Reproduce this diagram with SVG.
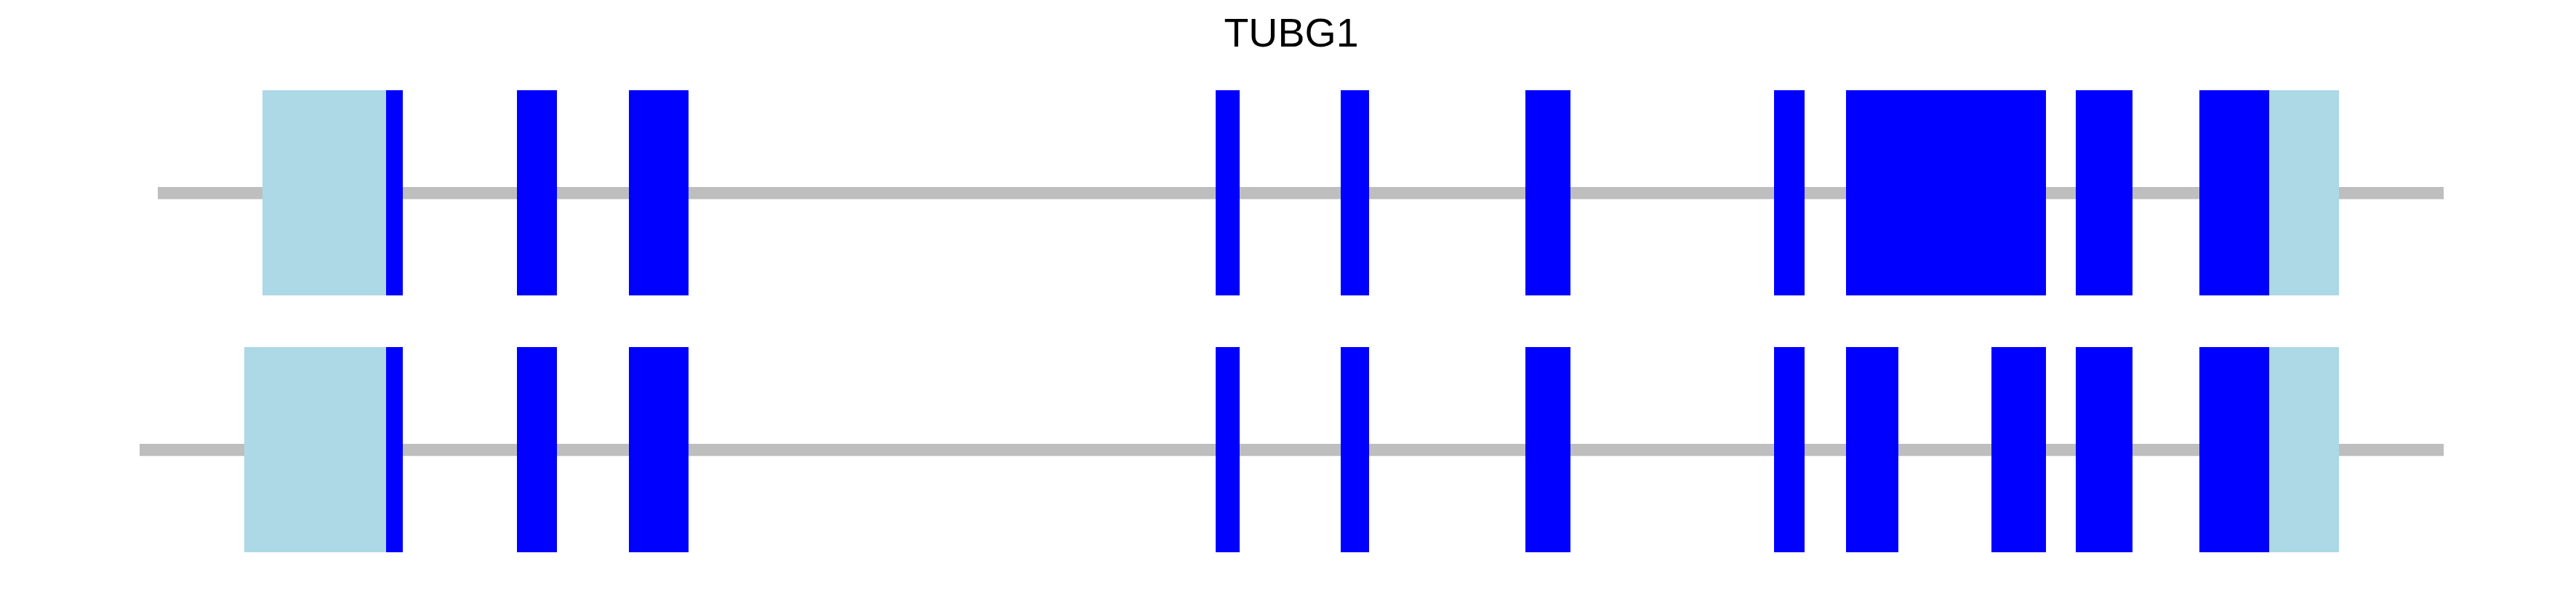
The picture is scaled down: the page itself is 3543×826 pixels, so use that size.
<svg xmlns="http://www.w3.org/2000/svg" width="3543" height="826" viewBox="0 0 3543 826">
<style>
.intron{fill:#BEBEBE}
.utr{fill:#ADD8E6}
.cds{fill:#0000FF}
.title{font-family:"Liberation Sans",Arial,sans-serif;font-size:55.5px;fill:#000000}
</style>
<rect x="0" y="0" width="3543" height="826" fill="#FFFFFF"/>
<text class="title" x="1776" y="64" text-anchor="middle">TUBG1</text>
<g id="connectors">
<rect class="intron" x="217" y="257" width="3144" height="16.7"/>
<rect class="intron" x="192" y="610" width="3169" height="16.7"/>
</g>
<g id="transcript1">
<rect class="utr" x="361" y="124" width="170" height="282"/>
<rect class="cds" x="531" y="124" width="23" height="282"/>
<rect class="cds" x="711" y="124" width="55" height="282"/>
<rect class="cds" x="865" y="124" width="82" height="282"/>
<rect class="cds" x="1672" y="124" width="33" height="282"/>
<rect class="cds" x="1844" y="124" width="39" height="282"/>
<rect class="cds" x="2098" y="124" width="62" height="282"/>
<rect class="cds" x="2440" y="124" width="42" height="282"/>
<rect class="cds" x="2539" y="124" width="275" height="282"/>
<rect class="cds" x="2855" y="124" width="78" height="282"/>
<rect class="cds" x="3025" y="124" width="96" height="282"/>
<rect class="utr" x="3121" y="124" width="96" height="282"/>
</g>
<g id="transcript2">
<rect class="utr" x="336" y="477" width="195" height="282"/>
<rect class="cds" x="531" y="477" width="23" height="282"/>
<rect class="cds" x="711" y="477" width="55" height="282"/>
<rect class="cds" x="865" y="477" width="82" height="282"/>
<rect class="cds" x="1672" y="477" width="33" height="282"/>
<rect class="cds" x="1844" y="477" width="39" height="282"/>
<rect class="cds" x="2098" y="477" width="62" height="282"/>
<rect class="cds" x="2440" y="477" width="42" height="282"/>
<rect class="cds" x="2539" y="477" width="72" height="282"/>
<rect class="cds" x="2739" y="477" width="75" height="282"/>
<rect class="cds" x="2855" y="477" width="78" height="282"/>
<rect class="cds" x="3025" y="477" width="96" height="282"/>
<rect class="utr" x="3121" y="477" width="96" height="282"/>
</g>
</svg>
